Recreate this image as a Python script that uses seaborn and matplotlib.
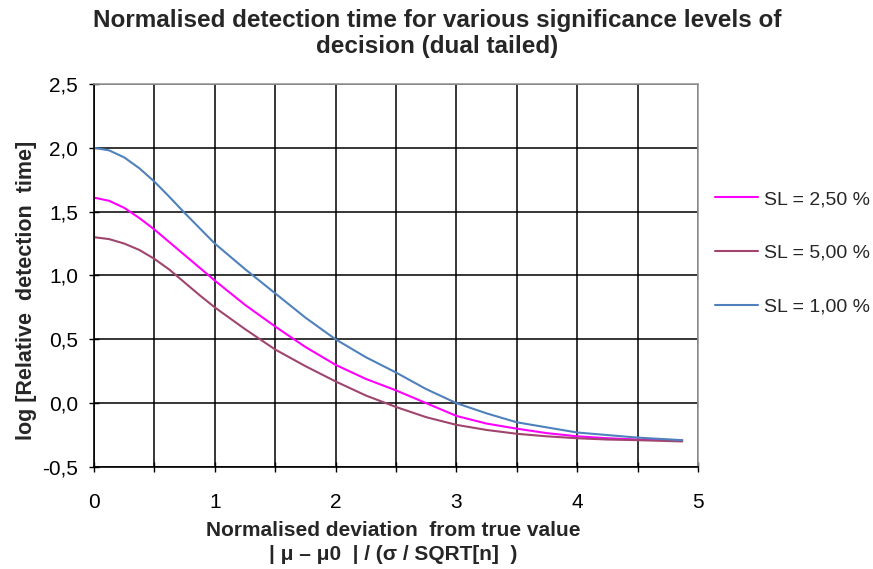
import numpy as np
import pandas as pd
import matplotlib
matplotlib.use("Agg")
import matplotlib.pyplot as plt
import seaborn as sns
from matplotlib.ticker import FuncFormatter, MultipleLocator

# valores
x_vals = [0.0, 0.125, 0.25, 0.375, 0.5, 0.625, 0.75, 0.875, 1.0, 1.25, 1.5, 1.75,
          2.0, 2.25, 2.5, 2.75, 3.0, 3.25, 3.5, 3.75, 4.0, 4.25, 4.5, 4.87]
sl_250 = [1.61, 1.585, 1.53, 1.45, 1.36, 1.26, 1.16, 1.06, 0.96, 0.77, 0.60, 0.44,
          0.30, 0.19, 0.10, 0.00, -0.10, -0.16, -0.20, -0.235, -0.26, -0.275, -0.285, -0.29]
sl_500 = [1.30, 1.285, 1.25, 1.20, 1.13, 1.045, 0.945, 0.845, 0.75, 0.58, 0.42, 0.29,
          0.17, 0.06, -0.03, -0.11, -0.17, -0.21, -0.24, -0.26, -0.275, -0.285, -0.29, -0.30]
sl_100 = [2.00, 1.98, 1.925, 1.84, 1.735, 1.615, 1.49, 1.37, 1.25, 1.05, 0.86, 0.67,
          0.50, 0.36, 0.24, 0.11, 0.00, -0.08, -0.15, -0.19, -0.23, -0.25, -0.27, -0.29]
labels = ['SL = 2,50 %', 'SL = 5,00 %', 'SL = 1,00 %']
cores = ['#FF00FF', '#A0456E', '#4F81BD']

df = pd.DataFrame({
    'x': x_vals * 3,
    'y': sl_250 + sl_500 + sl_100,
    'serie': [labels[0]] * len(x_vals) + [labels[1]] * len(x_vals) + [labels[2]] * len(x_vals),
})

sns.set_theme(style="white")
plt.rcParams['font.family'] = ['Liberation Sans', 'DejaVu Sans']

fig = plt.figure(figsize=(8.73, 5.69), dpi=100)
ax = fig.add_axes([0.1077, 0.1793, 0.6918, 0.6731])

sns.lineplot(data=df, x='x', y='y', hue='serie', hue_order=labels,
             palette=dict(zip(labels, cores)), linewidth=1.5, ax=ax)

ax.set_xlim(0, 5)
ax.set_ylim(-0.5, 2.5)
ax.xaxis.set_major_locator(MultipleLocator(1))
ax.xaxis.set_minor_locator(MultipleLocator(0.5))
ax.yaxis.set_major_locator(MultipleLocator(0.5))
ax.yaxis.set_major_formatter(FuncFormatter(lambda v, p: f'{v:.1f}'.replace('.', ',')))
ax.grid(True, which='both', color='black', linewidth=1.1)
ax.set_axisbelow(True)

ax.tick_params(axis='both', which='both', direction='inout', length=7, width=1,
               color='black', labelsize=15, labelcolor='black',
               bottom=True, left=True)
ax.tick_params(axis='x', which='major', pad=15)
ax.tick_params(axis='y', which='major', pad=8)

for lado in ['left', 'bottom']:
    ax.spines[lado].set_color('black')
    ax.spines[lado].set_linewidth(1.2)
for lado in ['top', 'right']:
    ax.spines[lado].set_color('#999999')
    ax.spines[lado].set_linewidth(1.2)

ax.set_xlabel('Normalised deviation  from true value\n| \u03bc \u2013 \u03bc0  | / (\u03c3 / SQRT[n]  )',
              fontsize=15, fontweight='bold', linespacing=1.3)
ax.xaxis.set_label_coords(0.495, -0.142)
ax.set_ylabel('log [Relative  detection  time]', fontsize=15.5, fontweight='bold')
ax.yaxis.set_label_coords(-0.094, 0.462)

leg = ax.legend(title=None, loc='upper left', bbox_to_anchor=(0.819, 0.665),
                bbox_transform=fig.transFigure, frameon=False, fontsize=14,
                labelspacing=1.85, handlelength=2.2, handletextpad=0.3,
                borderpad=0, borderaxespad=0)

fig.suptitle('Normalised detection time for various significance levels of\ndecision (dual tailed)',
             fontsize=17.5, fontweight='bold', x=0.501, y=0.984, linespacing=1.15)

fig.savefig('out.png', dpi=100)
